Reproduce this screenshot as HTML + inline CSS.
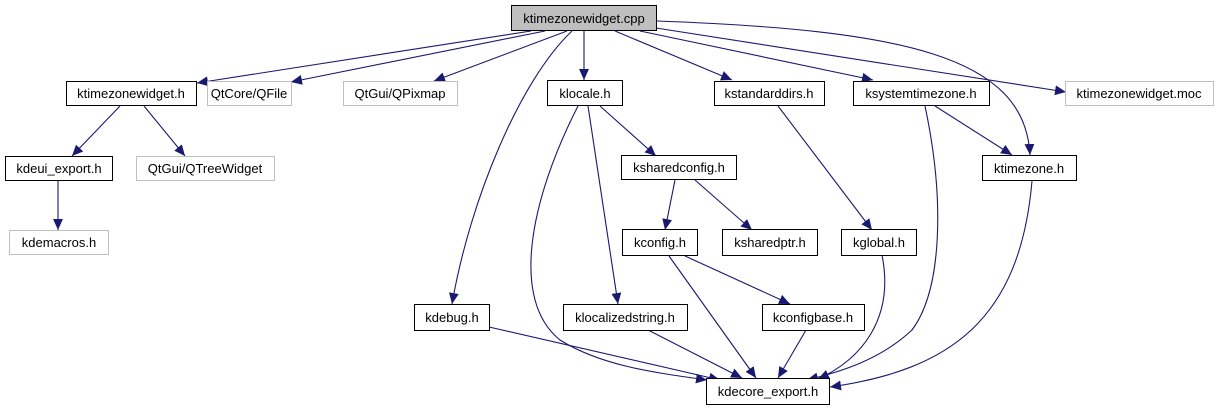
<!DOCTYPE html>
<html><head><meta charset="utf-8"><style>
html,body{margin:0;padding:0;background:#fff;width:1219px;height:411px;overflow:hidden}
svg text{font-family:"Liberation Sans",sans-serif;font-size:13px;text-anchor:middle;fill:#000}
</style></head><body>
<svg width="1219" height="411" xmlns="http://www.w3.org/2000/svg">
<defs><marker id="a" viewBox="0 0 10 10" refX="10" refY="5" markerWidth="11" markerHeight="11" markerUnits="userSpaceOnUse" orient="auto"><path d="M0,0.5 L10,5 L0,9.5 z" fill="#191970"/></marker></defs>
<g fill="none" stroke="#191970" stroke-width="1.1" marker-end="url(#a)">
<path d="M531,31 L197,83"/>
<path d="M545,31 L291,82"/>
<path d="M567,31 L434,81"/>
<path d="M572,31 C520,80 470,200 452,304"/>
<path d="M584,31 L584,80"/>
<path d="M615,31 L732,80"/>
<path d="M640,31 L873,80"/>
<path d="M656,28 L1066,92"/>
<path d="M657,21 C900,30 1025,55 1030,155"/>
<path d="M120,106 L72,156"/>
<path d="M144,106 L185,156"/>
<path d="M58,181 L58,230"/>
<path d="M600,106 L656,156"/>
<path d="M588,106 L618,304"/>
<path d="M578,106 C530,200 510,300 560,340 C600,365 650,372 707,380"/>
<path d="M675,180 L665,230"/>
<path d="M695,180 L752,230"/>
<path d="M778,106 L872,230"/>
<path d="M935,106 L1012,155"/>
<path d="M925,106 C945,200 942,290 912,330 C880,360 840,372 807,380"/>
<path d="M1032,181 C1020,320 950,370 830,387"/>
<path d="M882,255 C895,320 860,360 818,379"/>
<path d="M669,256 L756,378"/>
<path d="M685,256 L790,304"/>
<path d="M806,330 L778,378"/>
<path d="M489,327 L720,380"/>
<path d="M648,330 L742,378"/>
</g>
<g stroke-width="1" fill="#fff">
<rect x="511.5" y="5.5" width="145" height="25" fill="#bfbfbf" stroke="#000"/>
<rect x="66.5" y="81.5" width="130" height="24" stroke="#000"/>
<rect x="207.5" y="81.5" width="84" height="24" stroke="#bfbfbf"/>
<rect x="343.5" y="81.5" width="114" height="24" stroke="#bfbfbf"/>
<rect x="547.5" y="80.5" width="75" height="25" stroke="#000"/>
<rect x="714.5" y="81.5" width="110" height="24" stroke="#000"/>
<rect x="853.5" y="81.5" width="136" height="24" stroke="#000"/>
<rect x="1065.5" y="81.5" width="148" height="24" stroke="#bfbfbf"/>
<rect x="5.5" y="156.5" width="107" height="24" stroke="#000"/>
<rect x="136.5" y="156.5" width="138" height="24" stroke="#bfbfbf"/>
<rect x="621.5" y="155.5" width="115" height="24" stroke="#000"/>
<rect x="982.5" y="155.5" width="94" height="25" stroke="#000"/>
<rect x="9.5" y="230.5" width="99" height="24" stroke="#bfbfbf"/>
<rect x="622.5" y="229.5" width="75" height="26" stroke="#000"/>
<rect x="722.5" y="229.5" width="95" height="26" stroke="#000"/>
<rect x="841.5" y="229.5" width="75" height="26" stroke="#000"/>
<rect x="414.5" y="304.5" width="75" height="26" stroke="#000"/>
<rect x="563.5" y="304.5" width="124" height="26" stroke="#000"/>
<rect x="762.5" y="304.5" width="102" height="26" stroke="#000"/>
<rect x="706.5" y="378.5" width="123" height="26" stroke="#000"/>
</g>
<text x="584" y="23">ktimezonewidget.cpp</text>
<text x="131" y="98">ktimezonewidget.h</text>
<text x="249" y="98">QtCore/QFile</text>
<text x="400" y="98">QtGui/QPixmap</text>
<text x="585" y="98">klocale.h</text>
<text x="769" y="98">kstandarddirs.h</text>
<text x="921" y="98">ksystemtimezone.h</text>
<text x="1139" y="98">ktimezonewidget.moc</text>
<text x="59" y="173">kdeui_export.h</text>
<text x="205" y="173">QtGui/QTreeWidget</text>
<text x="679" y="172">ksharedconfig.h</text>
<text x="1029" y="173">ktimezone.h</text>
<text x="59" y="247">kdemacros.h</text>
<text x="660" y="247">kconfig.h</text>
<text x="770" y="247">ksharedptr.h</text>
<text x="879" y="247">kglobal.h</text>
<text x="452" y="322">kdebug.h</text>
<text x="625" y="322">klocalizedstring.h</text>
<text x="813" y="322">kconfigbase.h</text>
<text x="768" y="396">kdecore_export.h</text>
</svg>
</body></html>
